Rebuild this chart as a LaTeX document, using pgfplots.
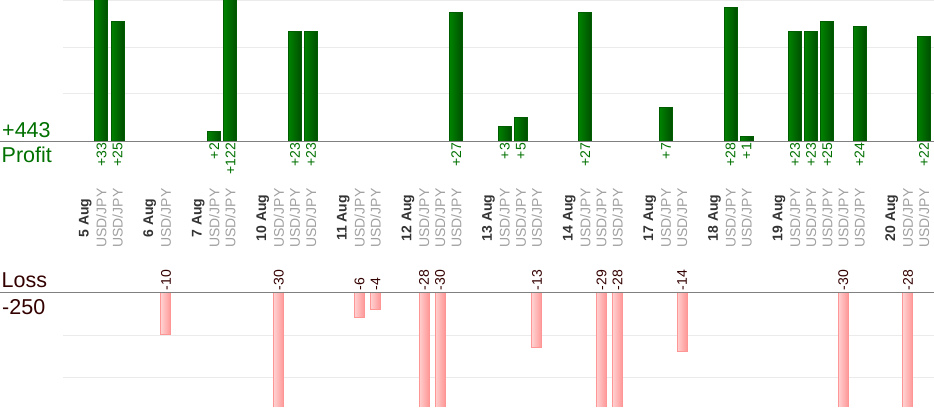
\documentclass[border=0pt]{standalone}
\usepackage{pgfplots}
\pgfplotsset{compat=1.18}
\usepackage{pgfplotstable}
\usepackage{fontspec}
\setmainfont{Liberation Sans}
\definecolor{gleft}{RGB}{0,130,0}
\definecolor{gright}{RGB}{0,78,0}
\definecolor{gborder}{RGB}{0,92,0}
\definecolor{ptext}{RGB}{0,112,0}
\definecolor{pleft}{RGB}{255,208,208}
\definecolor{pright}{RGB}{255,150,150}
\definecolor{pborder}{RGB}{255,150,150}
\definecolor{ltext}{RGB}{51,0,0}
\definecolor{gridc}{RGB}{235,235,235}
\definecolor{basec}{RGB}{128,128,128}
\definecolor{datec}{RGB}{51,51,51}
\definecolor{pairc}{RGB}{160,160,160}

\pgfplotstableread{
x y
1 33
2 25
8 2
9 122
13 23
14 23
23 27
26 3
27 5
31 27
36 7
40 28
41 1
44 23
45 23
46 25
48 24
52 22
}\profit

\pgfplotstableread{
x y
5 -10
12 -30
17 -6
18 -4
21 -28
22 -30
28 -13
32 -29
33 -28
37 -14
47 -30
51 -28
}\loss

\begin{document}
\begin{tikzpicture}
\path (0pt,0pt) rectangle (934pt,-420pt);
\begin{axis}[
  set layers, axis on top=false,
  at={(63pt,-141pt)}, anchor=south west,
  scale only axis, width=871pt, height=141pt,
  xmin=-1.3825, xmax=52.616, ymin=0, ymax=29.6,
  axis line style={draw=none},
  ytick={9.87,19.73,29.5}, yticklabel=\empty,
  yticklabel style={inner sep=0pt, outer sep=0pt},
  ymajorgrids, grid style={gridc, line width=1pt},
  major tick length=0pt,
  xtick={1,2,5,8,9,12,13,14,17,18,21,22,23,26,27,28,31,32,33,36,37,40,41,44,45,46,47,48,51,52},
  xticklabel={USD/JPY},
  xticklabel style={rotate=90, anchor=center, font=\fontsize{14}{16}\selectfont, text=pairc},
  xticklabel shift=77pt,
  extra x ticks={0,4,7,11,16,20,25,30,35,39,43,50},
  extra x tick labels={5 Aug,6 Aug,7 Aug,10 Aug,11 Aug,12 Aug,13 Aug,14 Aug,17 Aug,18 Aug,19 Aug,20 Aug},
  extra x tick style={xticklabel style={font=\bfseries\fontsize{14}{16}\selectfont, text=datec}},
]
\pgfplotsinvokeforeach{0,...,17}{
\addplot[ybar, bar width=13pt, bar shift=0pt, draw=gborder, line width=1pt,
  left color=gleft, right color=gright, restrict expr to domain={\coordindex}{#1:#1}] table[x=x,y=y]{\profit};
}
\addplot[draw=none, mark=none, point meta=explicit,
  nodes near coords={\pgfmathprintnumber[print sign, assume math mode=true]{\pgfplotspointmeta}},
  nodes near coords style={rotate=90, anchor=east, inner sep=2pt, font=\fontsize{14}{16}\selectfont, text=ptext}]
  table[x=x, y expr=0, meta=y]{\profit};
\end{axis}
\begin{axis}[
  set layers, axis on top=false,
  at={(63pt,-292.3pt)}, anchor=north west,
  scale only axis, width=871pt, height=114.2pt,
  xmin=-1.3825, xmax=52.616, ymin=-26.93, ymax=0,
  axis line style={draw=none},
  ytick={-10.24,-20.05}, yticklabel=\empty,
  yticklabel style={inner sep=0pt, outer sep=0pt},
  ymajorgrids, grid style={gridc, line width=1pt},
  major tick length=0pt,
  xtick=\empty,
]
\pgfplotsinvokeforeach{0,...,11}{
\addplot[ybar, bar width=10pt, bar shift=0pt, draw=pborder, line width=1pt,
  left color=pleft, right color=pright, restrict expr to domain={\coordindex}{#1:#1}] table[x=x,y=y]{\loss};
}
\addplot[draw=none, mark=none, point meta=explicit,
  nodes near coords={\pgfmathprintnumber[assume math mode=true]{\pgfplotspointmeta}},
  nodes near coords style={rotate=90, anchor=west, inner sep=2pt, font=\fontsize{14}{16}\selectfont, text=ltext}]
  table[x=x, y expr=0, meta=y]{\loss};
\end{axis}
\draw[basec, line width=1pt] (0pt,-141pt) -- (934pt,-141pt);
\draw[basec, line width=1pt] (0pt,-292.3pt) -- (934pt,-292.3pt);
\node[anchor=base west, inner sep=0pt, text=ptext, font=\fontsize{21.5}{24}\selectfont] at (2pt,-137.5pt) {+443};
\node[anchor=base west, inner sep=0pt, text=ptext, font=\fontsize{21.5}{24}\selectfont] at (1.5pt,-162.5pt) {Profit};
\node[anchor=base west, inner sep=0pt, text=ltext, font=\fontsize{21.5}{24}\selectfont] at (1.5pt,-287pt) {Loss};
\node[anchor=base west, inner sep=0pt, text=ltext, font=\fontsize{21.5}{24}\selectfont] at (2pt,-314pt) {-250};
\pgfresetboundingbox
\path[use as bounding box] (0pt,0pt) rectangle (934pt,-420pt);
\end{tikzpicture}
\end{document}
